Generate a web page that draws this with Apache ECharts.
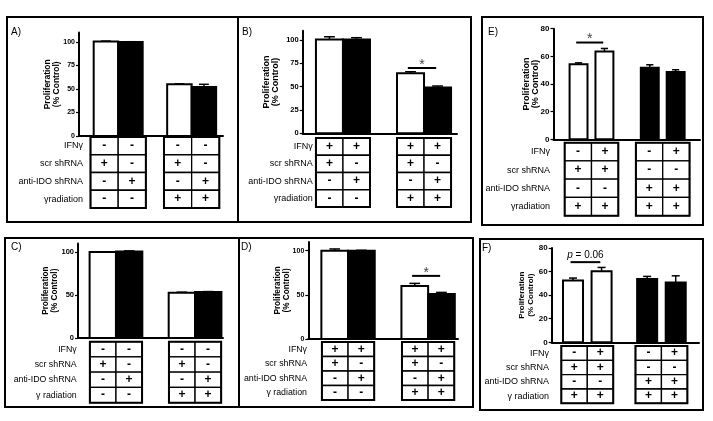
<!DOCTYPE html>
<html lang="en">
<head>
<meta charset="utf-8">
<title>Proliferation (% Control)</title>
<script src="https://cdn.jsdelivr.net/npm/echarts@6/dist/echarts.min.js"></script>
<style>
  html, body { margin: 0; padding: 0; background: #fff; }
  #chart { width: 713px; height: 421px; }
</style>
</head>
<body>
<div id="chart"></div>
<script>
// ---- values ----
var rowLabelsTop = ['IFNγ', 'scr shRNA', 'anti-IDO shRNA', 'γradiation'];
var rowLabelsBottom = ['IFNγ', 'scr shRNA', 'anti-IDO shRNA', 'γ radiation'];

var ticks100 = [0, 25, 50, 75, 100];
var ticks100b = [0, 50, 100];
var ticks80 = [0, 20, 40, 60, 80];

var valuesA = [100.5, 100, 55, 52];
var errorsA = [0.5, 0.3, 0.5, 3];
var valuesB = [100.5, 100.5, 64.3, 49.2];
var errorsB = [3, 2, 1.7, 1.5];
var valuesC = [100, 100.5, 52.5, 53.5];
var errorsC = [0.3, 0.8, 0.8, 0.5];
var valuesD = [100, 100, 60, 51];
var errorsD = [2, 0.5, 3, 1.8];
var valuesE = [54.2, 63.5, 51.7, 48.6];
var errorsE = [1.1, 2.2, 2.2, 1.7];
var valuesF = [52.5, 60.2, 53.6, 50.8];
var errorsF = [2, 3.3, 2.3, 5.6];

// treatment table, rows = IFNγ, scr shRNA, anti-IDO shRNA, radiation
var signsNoIfn = [['-', '-', '-', '-'], ['+', '-', '+', '-'], ['-', '+', '-', '+'], ['-', '-', '+', '+']];
var signsIfn = [['+', '+', '+', '+'], ['+', '-', '+', '-'], ['-', '+', '-', '+'], ['-', '-', '+', '+']];
var signsRad = [['-', '+', '-', '+'], ['+', '+', '-', '-'], ['-', '-', '+', '+'], ['+', '+', '+', '+']];

// significance marks: bars compared, height, label
var sigB = {from: 2, to: 3, y: 70, text: '*'};
var sigD = {from: 2, to: 3, y: 71.5, text: '*'};
var sigE = {from: 0, to: 1, y: 70, text: '*'};
var sigF = {from: 0, to: 1, y: 68, text: '{i|p} = 0.06'};

// ---- layout ----
var FONT = '"Liberation Sans", Arial, sans-serif';
var fillsAlt = ['#fff', '#000', '#fff', '#000'];
var fillsPair = ['#fff', '#fff', '#000', '#000'];

var layouts = {
  A: {left: 79, top: 32.6, bottom: 136, width: 144, tTop: 137, tBottom: 208, xMin: -1.1, xMax: 4.78, yMax: 110,
      bw: 1, bo: 0.5, tw: 1.13, labelMargin: -4, nameGap: 18, tickFont: 7, nameFont: 8.5, rowFont: 9},
  B: {left: 302.7, top: 30.7, bottom: 133.3, width: 154.3, tTop: 138, tBottom: 207, xMin: -0.99, xMax: 4.72, yMax: 110,
      bw: 1, bo: 0.5, tw: 1.0, labelMargin: -10, nameGap: 23, tickFont: 7.5, nameFont: 9, rowFont: 9},
  C: {left: 78, top: 243.4, bottom: 338, width: 145, tTop: 341.7, tBottom: 402.7, xMin: -0.94, xMax: 4.56, yMax: 110,
      bw: 1, bo: 0.5, tw: 0.99, labelMargin: 1.3, nameGap: 18.5, tickFont: 7.5, nameFont: 8.2, rowFont: 8.8},
  D: {left: 308.3, top: 241.9, bottom: 339, width: 149.7, tTop: 342, tBottom: 400, xMin: -0.99, xMax: 4.62, yMax: 110,
      bw: 1, bo: 0.5, tw: 0.98, labelMargin: 1.3, nameGap: 17, tickFont: 7, nameFont: 8.2, rowFont: 8.8},
  E: {left: 553.5, top: 28.7, bottom: 139.3, width: 146.5, tTop: 142.7, tBottom: 215.7, xMin: -1.1, xMax: 5.07, yMax: 80,
      bw: 0.755, bo: 0.545, tw: 1.13, labelMargin: 3.5, nameGap: 13.5, tickFont: 8, nameFont: 9, rowFont: 9},
  F: {left: 551.7, top: 248, bottom: 342.3, width: 147.3, tTop: 346, tBottom: 403.3, xMin: -0.94, xMax: 5.02, yMax: 80,
      bw: 0.81, bo: 0.578, tw: 1.05, labelMargin: 2.7, nameGap: 16.5, tickFont: 8, nameFont: 8, rowFont: 9}
};

var panels = [
  {id: 'A', values: valuesA, errors: errorsA, signs: signsNoIfn, rows: rowLabelsTop, ticks: ticks100, fills: fillsAlt, sig: null},
  {id: 'B', values: valuesB, errors: errorsB, signs: signsIfn, rows: rowLabelsTop, ticks: ticks100, fills: fillsAlt, sig: sigB},
  {id: 'C', values: valuesC, errors: errorsC, signs: signsNoIfn, rows: rowLabelsBottom, ticks: ticks100b, fills: fillsAlt, sig: null},
  {id: 'D', values: valuesD, errors: errorsD, signs: signsIfn, rows: rowLabelsBottom, ticks: ticks100b, fills: fillsAlt, sig: sigD},
  {id: 'E', values: valuesE, errors: errorsE, signs: signsRad, rows: rowLabelsTop, ticks: ticks80, fills: fillsPair, sig: sigE},
  {id: 'F', values: valuesF, errors: errorsF, signs: signsRad, rows: rowLabelsBottom, ticks: ticks80, fills: fillsPair, sig: sigF}
];

// bar i sits in pair 0 (i = 0,1) or pair 1 (i = 2,3); pair centres are 3 units apart
function colCenter(L, i) {
  var pc = 0.5 + 3 * (i < 2 ? 0 : 1);
  return pc + (i % 2 === 0 ? -L.bo : L.bo);
}

function barRenderer(p) {
  return function (params, api) {
    var i = api.value(0), v = api.value(1), e = api.value(2);
    var L = layouts[p.id], cx = colCenter(L, i);
    var base = api.coord([cx - L.bw / 2, 0]);
    var top = api.coord([cx + L.bw / 2, v]);
    var cap = api.coord([cx, v + e]);
    var w = top[0] - base[0], hc = w * 0.2;
    return {
      type: 'group',
      children: [
        {type: 'line', shape: {x1: cap[0], y1: top[1], x2: cap[0], y2: cap[1]}, style: {stroke: '#000', lineWidth: 1.5}},
        {type: 'line', shape: {x1: cap[0] - hc, y1: cap[1], x2: cap[0] + hc, y2: cap[1]}, style: {stroke: '#000', lineWidth: 1.5}},
        {type: 'rect', shape: {x: base[0], y: top[1], width: w, height: base[1] - top[1]},
         style: {fill: p.fills[i], stroke: '#000', lineWidth: 2}}
      ]
    };
  };
}

function tableRenderer(p) {
  return function (params, api) {
    var c = api.value(0), r = api.value(1);
    var L = layouts[p.id];
    var pc = 0.5 + 3 * (c < 2 ? 0 : 1);
    var x0 = pc - L.tw + (c % 2) * L.tw;
    var a = api.coord([x0, r]), b = api.coord([x0 + L.tw, r]);
    var h = api.size([0, 1])[1];
    var kids = [
      {type: 'rect', shape: {x: a[0], y: a[1] - h / 2, width: b[0] - a[0], height: h},
       style: {fill: '#fff', stroke: '#000', lineWidth: 1.3}},
      {type: 'text', x: (a[0] + b[0]) / 2, y: a[1],
       style: {text: p.signs[r][c], fill: '#000', font: 'bold 12px ' + FONT, align: 'center', verticalAlign: 'middle'}}
    ];
    // heavier outline round each two-column block, drawn with its last cell
    if (r === p.signs.length - 1 && c % 2 === 1) {
      var tl = api.coord([pc - L.tw, 0]), br = api.coord([pc + L.tw, r]);
      kids.push({type: 'rect', shape: {x: tl[0], y: tl[1] - h / 2, width: br[0] - tl[0], height: br[1] - tl[1] + h},
        style: {fill: 'none', stroke: '#000', lineWidth: 2}});
    }
    return {type: 'group', children: kids};
  };
}

function sigRenderer(p) {
  return function (params, api) {
    var s = p.sig, L = layouts[p.id];
    var a = api.coord([colCenter(L, s.from) - 0.1, s.y]);
    var b = api.coord([colCenter(L, s.to) - 0.05, s.y]);
    var star = s.text === '*';
    return {
      type: 'group',
      children: [
        {type: 'line', shape: {x1: a[0], y1: a[1], x2: b[0], y2: b[1]}, style: {stroke: '#000', lineWidth: 2}},
        {type: 'text', x: (a[0] + b[0]) / 2, y: star ? a[1] + 4 : a[1] - 2,
         style: {text: s.text, fill: star ? '#444' : '#000', font: (star ? '14px ' : '10px ') + FONT,
                 align: 'center', verticalAlign: 'bottom',
                 rich: {i: {fontStyle: 'italic', fontSize: 10, fontFamily: 'Liberation Sans'}}}}
      ]
    };
  };
}

var grids = [], xAxes = [], yAxes = [], series = [];
panels.forEach(function (p) {
  var L = layouts[p.id];
  var gi = grids.length;
  grids.push({left: L.left, top: L.top, width: L.width, height: L.bottom - L.top, containLabel: false, outerBoundsMode: 'none'});
  grids.push({left: L.left, top: L.tTop, width: L.width, height: L.tBottom - L.tTop, containLabel: false, outerBoundsMode: 'none'});

  xAxes.push({gridIndex: gi, type: 'value', min: L.xMin, max: L.xMax,
    axisLine: {show: true, onZero: false, lineStyle: {color: '#000', width: 2}},
    axisTick: {show: false}, axisLabel: {show: false}, splitLine: {show: false}});
  xAxes.push({gridIndex: gi + 1, type: 'value', min: L.xMin, max: L.xMax, show: false});

  yAxes.push({gridIndex: gi, type: 'value', min: 0, max: L.yMax,
    name: 'Proliferation\n(% Control)', nameLocation: 'middle', nameRotate: 90, nameGap: L.nameGap,
    nameMoveOverlap: false,
    nameTextStyle: {fontSize: L.nameFont, fontWeight: 'bold', color: '#000', fontFamily: FONT, lineHeight: 9},
    axisLine: {show: true, onZero: false, lineStyle: {color: '#000', width: 2}},
    axisTick: {show: true, length: 3, customValues: p.ticks, lineStyle: {color: '#000', width: 1.2}},
    axisLabel: {customValues: p.ticks, fontSize: L.tickFont, fontWeight: 'bold', color: '#000', fontFamily: FONT, margin: 4},
    splitLine: {show: false}});
  yAxes.push({gridIndex: gi + 1, type: 'category', inverse: true, data: p.rows,
    axisLine: {show: false, onZero: false}, axisTick: {show: false}, splitLine: {show: false},
    axisLabel: {margin: L.labelMargin, fontSize: L.rowFont, color: '#000', fontFamily: FONT}});

  series.push({type: 'custom', xAxisIndex: gi, yAxisIndex: gi, silent: true,
    data: p.values.map(function (v, i) { return [i, v, p.errors[i]]; }),
    renderItem: barRenderer(p)});

  var cells = [];
  p.signs.forEach(function (row, r) {
    row.forEach(function (s, c) { cells.push([c, r]); });
  });
  series.push({type: 'custom', xAxisIndex: gi + 1, yAxisIndex: gi + 1, silent: true,
    data: cells, renderItem: tableRenderer(p)});

  if (p.sig) {
    series.push({type: 'custom', xAxisIndex: gi, yAxisIndex: gi, silent: true,
      data: [[p.sig.from, p.sig.y]], renderItem: sigRenderer(p)});
  }
});

// panel frames and letters
var frame = {fill: 'none', stroke: '#000', lineWidth: 2};
var graphic = [
  {type: 'rect', shape: {x: 7, y: 17, width: 464, height: 205}, style: frame},
  {type: 'line', shape: {x1: 238, y1: 17, x2: 238, y2: 222}, style: frame},
  {type: 'rect', shape: {x: 482, y: 17, width: 221, height: 208}, style: frame},
  {type: 'rect', shape: {x: 5, y: 238, width: 468, height: 169}, style: frame},
  {type: 'line', shape: {x1: 239, y1: 238, x2: 239, y2: 407}, style: frame},
  {type: 'rect', shape: {x: 480, y: 239, width: 223, height: 171}, style: frame}
];
var letterPos = {A: [11, 27], B: [242, 27], E: [488, 27], C: [11, 242], D: [241, 242], F: [482, 243]};
Object.keys(letterPos).forEach(function (k) {
  graphic.push({type: 'text', left: letterPos[k][0], top: letterPos[k][1],
    style: {text: k + ')', font: '10px ' + FONT, fill: '#000'}});
});

var chart = echarts.init(document.getElementById('chart'));
chart.setOption({
  animation: false,
  backgroundColor: '#fff',
  grid: grids,
  xAxis: xAxes,
  yAxis: yAxes,
  series: series,
  graphic: graphic
});
</script>
</body>
</html>
